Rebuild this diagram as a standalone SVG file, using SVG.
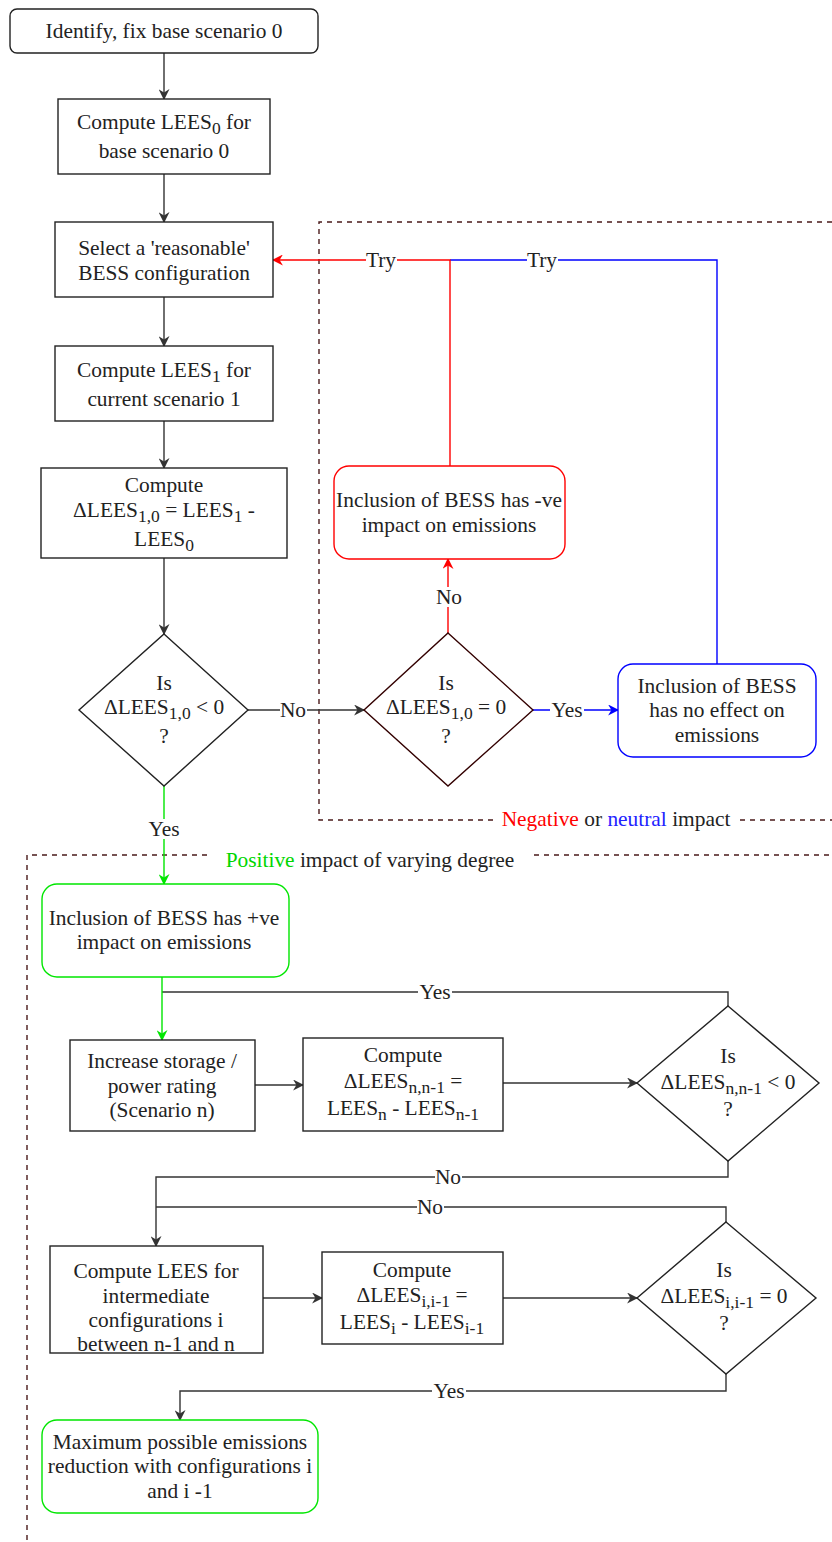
<svg xmlns="http://www.w3.org/2000/svg" width="832" height="1542" viewBox="0 0 832 1542">
<defs>
<style>
.t{font-family:"Liberation Serif","Times New Roman",serif;font-size:21.4px;fill:#222;text-anchor:middle}
.s{font-size:17.5px}
.box{fill:#fff;stroke:#222;stroke-width:1.4}
.e{fill:none;stroke:#333;stroke-width:1.4}
.er{fill:none;stroke:#f00;stroke-width:1.4}
.eb{fill:none;stroke:#00f;stroke-width:1.4}
.eg{fill:none;stroke:#00e600;stroke-width:1.4}
.d{fill:none;stroke:#4a1a1a;stroke-width:1.4;stroke-dasharray:5 5}
.bg{fill:#fff}
</style>
<marker id="ak" viewBox="0 0 10 10" refX="9" refY="5" markerWidth="11" markerHeight="11" orient="auto" markerUnits="userSpaceOnUse"><path d="M0,0 L10,5 L0,10 L3,5 z" fill="#333"/></marker>
<marker id="ar" viewBox="0 0 10 10" refX="9" refY="5" markerWidth="11" markerHeight="11" orient="auto" markerUnits="userSpaceOnUse"><path d="M0,0 L10,5 L0,10 L3,5 z" fill="#f00"/></marker>
<marker id="ab" viewBox="0 0 10 10" refX="9" refY="5" markerWidth="11" markerHeight="11" orient="auto" markerUnits="userSpaceOnUse"><path d="M0,0 L10,5 L0,10 L3,5 z" fill="#00f"/></marker>
<marker id="ag" viewBox="0 0 10 10" refX="9" refY="5" markerWidth="11" markerHeight="11" orient="auto" markerUnits="userSpaceOnUse"><path d="M0,0 L10,5 L0,10 L3,5 z" fill="#00e600"/></marker>
</defs>
<rect width="832" height="1542" fill="#fff"/>

<g id="regions">
<path class="d" d="M832,222 H319 V820 H495"/>
<path class="d" d="M740,820 H832"/>
<text class="t" x="616" y="826"><tspan fill="#f00">Negative</tspan> or <tspan fill="#22f">neutral</tspan> impact</text>
<path class="d" d="M207,855 H27 V1542"/>
<path class="d" d="M534,855 H832"/>
<text class="t" x="370" y="867"><tspan fill="#00d600">Positive</tspan> impact of varying degree</text>
</g>

<g id="connectors">
<path class="e" d="M164,53 V99" marker-end="url(#ak)"/>
<path class="e" d="M164,174 V222" marker-end="url(#ak)"/>
<path class="e" d="M164,297 V346" marker-end="url(#ak)"/>
<path class="e" d="M164,421 V468" marker-end="url(#ak)"/>
<path class="e" d="M164,558 V634" marker-end="url(#ak)"/>
<path class="e" d="M248,710 H364" marker-end="url(#ak)"/>
<path class="eb" d="M717,664 V260 H450"/>
<path class="er" d="M450,466 V260 H273" marker-end="url(#ar)"/>
<path class="er" d="M448,633 V559" marker-end="url(#ar)"/>
<path class="eb" d="M533,710 H618" marker-end="url(#ab)"/>
<path class="eg" d="M164,786 V884" marker-end="url(#ag)"/>
<path class="e" d="M728,1006 V992 H162"/>
<path class="eg" d="M162,977 V1040" marker-end="url(#ag)"/>
<path class="e" d="M255,1085 H303" marker-end="url(#ak)"/>
<path class="e" d="M503,1083 H637" marker-end="url(#ak)"/>
<path class="e" d="M728,1161 V1177 H156 V1246" marker-end="url(#ak)"/>
<path class="e" d="M726,1222 V1207 H156"/>
<path class="e" d="M263,1298 H322" marker-end="url(#ak)"/>
<path class="e" d="M503,1298 H637" marker-end="url(#ak)"/>
<path class="e" d="M726,1374 V1391 H180 V1420" marker-end="url(#ak)"/>

<rect class="bg" x="280" y="700" width="27" height="20"/>
<text class="t" x="293" y="717">No</text>
<rect class="bg" x="366" y="250" width="31" height="20"/>
<text class="t" x="381" y="267">Try</text>
<rect class="bg" x="527" y="250" width="31" height="20"/>
<text class="t" x="542" y="267">Try</text>
<rect class="bg" x="436" y="587" width="27" height="20"/>
<text class="t" x="449" y="604">No</text>
<rect class="bg" x="550" y="700" width="34" height="20"/>
<text class="t" x="567" y="717">Yes</text>
<rect class="bg" x="147" y="819" width="34" height="20"/>
<text class="t" x="164" y="836">Yes</text>
<rect class="bg" x="418" y="982" width="34" height="20"/>
<text class="t" x="435" y="999">Yes</text>
<rect class="bg" x="435" y="1167" width="27" height="20"/>
<text class="t" x="448" y="1184">No</text>
<rect class="bg" x="417" y="1197" width="27" height="20"/>
<text class="t" x="430" y="1214">No</text>
<rect class="bg" x="432" y="1381" width="34" height="20"/>
<text class="t" x="449" y="1398">Yes</text>
</g>

<g id="n1">
<rect class="box" x="10" y="9" width="308" height="44" rx="7"/>
<text class="t" x="164" y="38">Identify, fix base scenario 0</text>
</g>
<g id="n2">
<rect class="box" x="58" y="99" width="212" height="75"/>
<text class="t" x="164" y="129">Compute LEES<tspan class="s" dy="5">0</tspan><tspan dy="-5"> for</tspan></text>
<text class="t" x="164" y="158">base scenario 0</text>
</g>
<g id="n3">
<rect class="box" x="55" y="222" width="218" height="75"/>
<text class="t" x="164" y="255">Select a 'reasonable'</text>
<text class="t" x="164" y="280">BESS configuration</text>
</g>
<g id="n4">
<rect class="box" x="55" y="346" width="218" height="75"/>
<text class="t" x="164" y="377">Compute LEES<tspan class="s" dy="5">1</tspan><tspan dy="-5"> for</tspan></text>
<text class="t" x="164" y="406">current scenario 1</text>
</g>
<g id="n5">
<rect class="box" x="41" y="468" width="246" height="90"/>
<text class="t" x="164" y="492">Compute</text>
<text class="t" x="164" y="517">ΔLEES<tspan class="s" dy="5">1,0</tspan><tspan dy="-5"> = LEES</tspan><tspan class="s" dy="5">1</tspan><tspan dy="-5"> -</tspan></text>
<text class="t" x="164" y="546">LEES<tspan class="s" dy="5">0</tspan></text>
</g>
<g id="d1">
<polygon class="box" points="164,634 248,710 164,786 79,710"/>
<text class="t" x="164" y="690">Is</text>
<text class="t" x="164" y="714">ΔLEES<tspan class="s" dy="5">1,0</tspan><tspan dy="-5"> &lt; 0</tspan></text>
<text class="t" x="164" y="743">?</text>
</g>
<g id="d2">
<polygon class="box" style="stroke:#330000" points="448,633 533,710 448,786 364,710"/>
<text class="t" x="446" y="690">Is</text>
<text class="t" x="446" y="714">ΔLEES<tspan class="s" dy="5">1,0</tspan><tspan dy="-5"> = 0</tspan></text>
<text class="t" x="446" y="743">?</text>
</g>
<g id="nred">
<rect class="box" style="stroke:#f00" x="334" y="466" width="231" height="93" rx="15"/>
<text class="t" x="449" y="507">Inclusion of BESS has -ve</text>
<text class="t" x="449" y="532">impact on emissions</text>
</g>
<g id="nblue">
<rect class="box" style="stroke:#00f" x="618" y="664" width="198" height="93" rx="15"/>
<text class="t" x="717" y="693">Inclusion of BESS</text>
<text class="t" x="717" y="717">has no effect on</text>
<text class="t" x="717" y="742">emissions</text>
</g>
<g id="ngreen1">
<rect class="box" style="stroke:#00e600" x="42" y="884" width="247" height="93" rx="15"/>
<text class="t" x="164" y="925">Inclusion of BESS has +ve</text>
<text class="t" x="164" y="949">impact on emissions</text>
</g>
<g id="n6">
<rect class="box" x="70" y="1040" width="185" height="91"/>
<text class="t" x="162" y="1068">Increase storage /</text>
<text class="t" x="162" y="1093">power rating</text>
<text class="t" x="162" y="1117">(Scenario n)</text>
</g>
<g id="n7">
<rect class="box" x="303" y="1038" width="200" height="93"/>
<text class="t" x="403" y="1062">Compute</text>
<text class="t" x="403" y="1088">ΔLEES<tspan class="s" dy="5">n,n-1</tspan><tspan dy="-5"> =</tspan></text>
<text class="t" x="403" y="1115">LEES<tspan class="s" dy="5">n</tspan><tspan dy="-5"> - LEES</tspan><tspan class="s" dy="5">n-1</tspan></text>
</g>
<g id="d3">
<polygon class="box" points="728,1006 819,1083 728,1161 637,1083"/>
<text class="t" x="728" y="1063">Is</text>
<text class="t" x="728" y="1089">ΔLEES<tspan class="s" dy="5">n,n-1</tspan><tspan dy="-5"> &lt; 0</tspan></text>
<text class="t" x="728" y="1116">?</text>
</g>
<g id="n8">
<rect class="box" x="50" y="1246" width="213" height="107"/>
<text class="t" x="156" y="1278">Compute LEES for</text>
<text class="t" x="156" y="1303">intermediate</text>
<text class="t" x="156" y="1327">configurations i</text>
<text class="t" x="156" y="1351">between n-1 and n</text>
</g>
<g id="n9">
<rect class="box" x="322" y="1252" width="181" height="92"/>
<text class="t" x="412" y="1277">Compute</text>
<text class="t" x="412" y="1302">ΔLEES<tspan class="s" dy="5">i,i-1</tspan><tspan dy="-5"> =</tspan></text>
<text class="t" x="412" y="1329">LEES<tspan class="s" dy="5">i</tspan><tspan dy="-5"> - LEES</tspan><tspan class="s" dy="5">i-1</tspan></text>
</g>
<g id="d4">
<polygon class="box" points="726,1222 816,1298 726,1374 637,1298"/>
<text class="t" x="724" y="1277">Is</text>
<text class="t" x="724" y="1303">ΔLEES<tspan class="s" dy="5">i,i-1</tspan><tspan dy="-5"> = 0</tspan></text>
<text class="t" x="724" y="1330">?</text>
</g>
<g id="ngreen2">
<rect class="box" style="stroke:#00e600" x="42" y="1420" width="276" height="93" rx="15"/>
<text class="t" x="180" y="1449">Maximum possible emissions</text>
<text class="t" x="180" y="1473">reduction with configurations i</text>
<text class="t" x="180" y="1498">and i -1</text>
</g>
</svg>
